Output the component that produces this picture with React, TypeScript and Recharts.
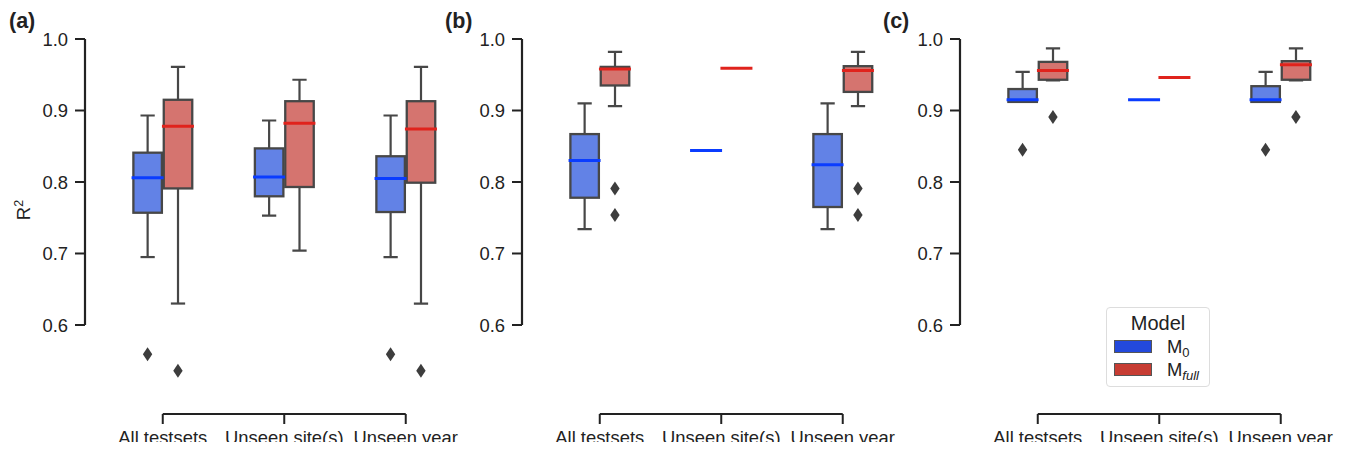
import React from "react";
import {
  Bar,
  ComposedChart,
  ReferenceLine,
  Scatter,
  XAxis,
  YAxis
} from "recharts";

// box stats per category: [lower whisker, q1, median, q3, upper whisker]
const categories = ["All testsets", "Unseen site(s)", "Unseen year"];
const modelKeys = ["M0", "Mfull"];

const panelA_M0 = [
  [0.695, 0.757, 0.806, 0.841, 0.893],
  [0.753, 0.780, 0.807, 0.847, 0.886],
  [0.695, 0.758, 0.805, 0.836, 0.893]
];
const panelA_Mfull = [
  [0.630, 0.791, 0.878, 0.915, 0.961],
  [0.704, 0.793, 0.882, 0.913, 0.943],
  [0.630, 0.799, 0.874, 0.913, 0.961]
];
const panelA_M0_outliers = [[0.559], [], [0.559]];
const panelA_Mfull_outliers = [[0.536], [], [0.536]];

const panelB_M0 = [
  [0.734, 0.778, 0.830, 0.867, 0.910],
  [0.844, 0.844, 0.844, 0.844, 0.844],
  [0.734, 0.765, 0.824, 0.867, 0.910]
];
const panelB_Mfull = [
  [0.906, 0.935, 0.958, 0.961, 0.982],
  [0.959, 0.959, 0.959, 0.959, 0.959],
  [0.906, 0.926, 0.956, 0.962, 0.982]
];
const panelB_M0_outliers = [[], [], []];
const panelB_Mfull_outliers = [[0.791, 0.754], [], [0.791, 0.754]];

const panelC_M0 = [
  [0.912, 0.912, 0.915, 0.930, 0.954],
  [0.915, 0.915, 0.915, 0.915, 0.915],
  [0.912, 0.912, 0.915, 0.934, 0.954]
];
const panelC_Mfull = [
  [0.942, 0.943, 0.956, 0.968, 0.987],
  [0.946, 0.946, 0.946, 0.946, 0.946],
  [0.942, 0.943, 0.964, 0.969, 0.987]
];
const panelC_M0_outliers = [[0.845], [], [0.845]];
const panelC_Mfull_outliers = [[0.891], [], [0.891]];

const yTicks = [0.6, 0.7, 0.8, 0.9, 1.0];

// styling
const FONT = "'Liberation Sans', Arial, sans-serif";
const TEXT = "#222";
const SPINE = "#222";
const EDGE = "#474747";
const FILL: Record<string, string> = { M0: "#6282e6", Mfull: "#d5746f" };
const MEDIAN: Record<string, string> = { M0: "#0a3cff", Mfull: "#e0231c" };
const PATCH: Record<string, string> = { M0: "#2349dc", Mfull: "#c73d33" };

const X_DOMAIN: [number, number] = [-0.64, 2.64];
const Y_DOMAIN: [number, number] = [0.4755, 1.0];
const HUE_OFFSET = 0.125;
const BAR_SIZE = 28.5;

interface BoxRow {
  pos: number;
  model: string;
  lo: number;
  q1: number;
  med: number;
  q3: number;
  hi: number;
}

function buildRows(m0: number[][], mfull: number[][]): BoxRow[] {
  const rows: BoxRow[] = [];
  categories.forEach((_, i) => {
    [m0, mfull].forEach((stats, j) => {
      const [lo, q1, med, q3, hi] = stats[i];
      rows.push({
        pos: i + (j === 0 ? -HUE_OFFSET : HUE_OFFSET),
        model: modelKeys[j],
        lo,
        q1,
        med,
        q3,
        hi
      });
    });
  });
  return rows;
}

function buildOutliers(m0: number[][], mfull: number[][]) {
  const pts: { pos: number; v: number }[] = [];
  categories.forEach((_, i) => {
    [m0, mfull].forEach((list, j) => {
      list[i].forEach((v) =>
        pts.push({ pos: i + (j === 0 ? -HUE_OFFSET : HUE_OFFSET), v })
      );
    });
  });
  return pts;
}

const Whisker = (props: any) => {
  const { x, y, width, height } = props;
  const h = Math.abs(height);
  if (!h || h < 0.5) return <g />;
  const top = Math.min(y, y + height);
  const cx = x + width / 2;
  const cap = width / 4;
  return (
    <g stroke={EDGE} strokeWidth={2.2}>
      <line x1={cx} x2={cx} y1={top} y2={top + h} />
      <line x1={cx - cap} x2={cx + cap} y1={top} y2={top} />
      <line x1={cx - cap} x2={cx + cap} y1={top + h} y2={top + h} />
    </g>
  );
};

const BoxShape = (props: any) => {
  const { x, y, width, height, payload } = props;
  const h = Math.abs(height);
  if (!h || h < 0.5) return <g />;
  const top = Math.min(y, y + height);
  return (
    <rect
      x={x}
      y={top}
      width={width}
      height={h}
      fill={FILL[payload.model]}
      stroke={EDGE}
      strokeWidth={2.3}
    />
  );
};

const MedianShape = (props: any) => {
  const { cx, cy, payload } = props;
  return (
    <line
      x1={cx - 16}
      x2={cx + 16}
      y1={cy}
      y2={cy}
      stroke={MEDIAN[payload.model]}
      strokeWidth={3}
    />
  );
};

const Diamond = (props: any) => {
  const { cx, cy } = props;
  return (
    <polygon
      points={`${cx},${cy - 7} ${cx + 4.7},${cy} ${cx},${cy + 7} ${cx - 4.7},${cy}`}
      fill="#3d3d3d"
    />
  );
};

const tickStyle = { fill: TEXT, fontSize: 18.4, fontFamily: FONT };

function BoxPanel({
  rows,
  outliers,
  left
}: {
  rows: BoxRow[];
  outliers: { pos: number; v: number }[];
  left: number;
}) {
  return (
    <div style={{ position: "absolute", left, top: 0 }}>
      <ComposedChart
        width={490}
        height={450}
        data={rows}
        margin={{ top: 39, right: 6.5, bottom: 0, left: 25 }}
      >
        <XAxis
          xAxisId="x"
          type="number"
          dataKey="pos"
          domain={X_DOMAIN}
          allowDataOverflow
          ticks={[0, 1, 2]}
          interval={0}
          tickFormatter={(v: number) => categories[v]}
          axisLine={false}
          tickLine={{ stroke: SPINE, strokeWidth: 2 }}
          tickSize={10}
          tickMargin={7}
          height={36}
          tick={tickStyle}
        />
        <XAxis
          xAxisId="w"
          orientation="top"
          height={0}
          type="number"
          dataKey="pos"
          domain={X_DOMAIN}
          allowDataOverflow
          hide
        />
        <XAxis
          xAxisId="b"
          orientation="top"
          height={0}
          type="number"
          dataKey="pos"
          domain={X_DOMAIN}
          allowDataOverflow
          hide
        />
        <YAxis
          type="number"
          domain={Y_DOMAIN}
          allowDataOverflow
          ticks={yTicks}
          interval={0}
          tickFormatter={(v: number) => v.toFixed(1)}
          axisLine={false}
          tickLine={{ stroke: SPINE, strokeWidth: 2 }}
          tickSize={10}
          tickMargin={7}
          width={60}
          tick={tickStyle}
        />
        <ReferenceLine
          xAxisId="x"
          segment={[
            { x: X_DOMAIN[0], y: 0.6 },
            { x: X_DOMAIN[0], y: 1.0 }
          ]}
          stroke={SPINE}
          strokeWidth={2.2}
          ifOverflow="visible"
        />
        <ReferenceLine
          xAxisId="x"
          segment={[
            { x: 0, y: Y_DOMAIN[0] },
            { x: 2, y: Y_DOMAIN[0] }
          ]}
          stroke={SPINE}
          strokeWidth={2.2}
          ifOverflow="visible"
        />
        <Bar
          xAxisId="w"
          dataKey={(r: BoxRow) => [r.lo, r.hi]}
          barSize={BAR_SIZE}
          shape={Whisker}
          isAnimationActive={false}
        />
        <Bar
          xAxisId="b"
          dataKey={(r: BoxRow) => [r.q1, r.q3]}
          barSize={BAR_SIZE}
          shape={BoxShape}
          isAnimationActive={false}
        />
        <Scatter xAxisId="x" dataKey="med" shape={MedianShape} isAnimationActive={false} />
        <Scatter xAxisId="x" data={outliers} dataKey="v" shape={Diamond} isAnimationActive={false} />
      </ComposedChart>
    </div>
  );
}

const titleStyle: React.CSSProperties = {
  position: "absolute",
  top: 11,
  fontWeight: "bold",
  fontSize: 21.5,
  lineHeight: "21px",
  color: TEXT,
  fontFamily: FONT
};

function ModelLegend() {
  const rowText: React.CSSProperties = {
    position: "absolute",
    left: 60,
    fontSize: 18.4,
    lineHeight: "18px",
    color: TEXT
  };
  return (
    <div
      style={{
        position: "absolute",
        left: 1106,
        top: 307,
        width: 104,
        height: 80,
        border: "1px solid #dddddd",
        borderRadius: 4,
        boxSizing: "border-box",
        background: "#fff",
        fontFamily: FONT
      }}
    >
      <div
        style={{
          position: "absolute",
          top: 4,
          width: "100%",
          textAlign: "center",
          fontSize: 20,
          lineHeight: "22px",
          color: TEXT
        }}
      >
        Model
      </div>
      {modelKeys.map((m, i) => (
        <React.Fragment key={m}>
          <div
            style={{
              position: "absolute",
              left: 7,
              top: 32 + i * 23,
              width: 38,
              height: 13,
              background: PATCH[m],
              border: "1px solid #555",
              boxSizing: "border-box"
            }}
          />
          <div style={{ ...rowText, top: 30 + i * 23 }}>
            M
            <span style={{ fontSize: 13, position: "relative", top: 4 }}>
              {m === "M0" ? "0" : <i>full</i>}
            </span>
          </div>
        </React.Fragment>
      ))}
    </div>
  );
}

export default function App() {
  return (
    <div
      style={{
        position: "relative",
        width: 1348,
        height: 450,
        margin: -8,
        background: "#fff",
        fontFamily: FONT,
        overflow: "hidden"
      }}
    >
      <BoxPanel
        left={0}
        rows={buildRows(panelA_M0, panelA_Mfull)}
        outliers={buildOutliers(panelA_M0_outliers, panelA_Mfull_outliers)}
      />
      <BoxPanel
        left={437}
        rows={buildRows(panelB_M0, panelB_Mfull)}
        outliers={buildOutliers(panelB_M0_outliers, panelB_Mfull_outliers)}
      />
      <BoxPanel
        left={875}
        rows={buildRows(panelC_M0, panelC_Mfull)}
        outliers={buildOutliers(panelC_M0_outliers, panelC_Mfull_outliers)}
      />
      <div style={{ ...titleStyle, left: 9 }}>(a)</div>
      <div style={{ ...titleStyle, left: 445 }}>(b)</div>
      <div style={{ ...titleStyle, left: 883 }}>(c)</div>
      <div
        style={{
          position: "absolute",
          left: 4,
          top: 198,
          width: 40,
          height: 24,
          lineHeight: "24px",
          textAlign: "center",
          fontSize: 18.4,
          color: TEXT,
          transform: "rotate(-90deg)"
        }}
      >
        R
        <span style={{ fontSize: 12.5, position: "relative", top: -7 }}>2</span>
      </div>
      <ModelLegend />
    </div>
  );
}
